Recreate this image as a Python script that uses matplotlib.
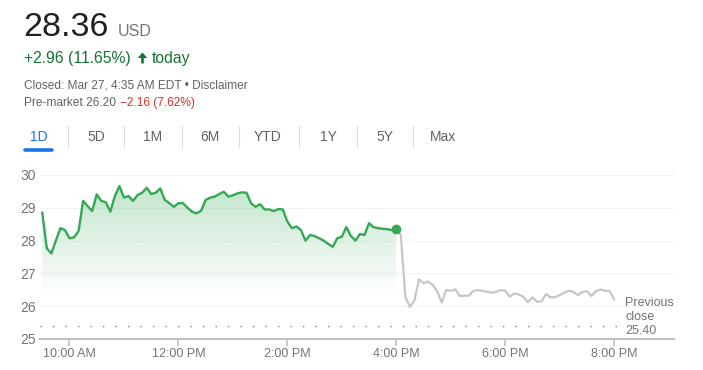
import numpy as np
import matplotlib
matplotlib.use("Agg")
import matplotlib.pyplot as plt
from matplotlib.lines import Line2D
from matplotlib.patches import FancyArrow
from matplotlib.transforms import IdentityTransform

plt.rcParams['font.family'] = ['Liberation Sans', 'DejaVu Sans']

# regular session, 5-minute steps from 9:30 AM to 4:00 PM
session_prices = [
    28.85, 27.76, 27.61, 28.00, 28.38, 28.32, 28.07, 28.10, 28.29, 29.21,
    29.05, 28.90, 29.41, 29.21, 29.17, 28.88, 29.36, 29.66, 29.31, 29.36,
    29.21, 29.39, 29.46, 29.61, 29.42, 29.46, 29.59, 29.24, 29.14, 29.03,
    29.14, 29.14, 29.00, 28.88, 28.83, 28.91, 29.24, 29.31, 29.34, 29.42,
    29.49, 29.34, 29.38, 29.44, 29.47, 29.46, 29.14, 29.03, 29.11, 28.95,
    28.95, 28.90, 28.96, 28.95, 28.58, 28.38, 28.43, 28.32, 28.00, 28.17,
    28.14, 28.07, 28.00, 27.90, 27.81, 28.07, 28.12, 28.41, 28.14, 28.00,
    28.20, 28.17, 28.53, 28.41, 28.38, 28.36, 28.35, 28.32, 28.36,
]
# after hours, 5-minute steps from 4:00 PM to 8:00 PM
after_prices = [
    28.36, 28.17, 26.29, 25.98, 26.17, 26.82, 26.70, 26.75, 26.65, 26.46,
    26.11, 26.49, 26.47, 26.51, 26.31, 26.32, 26.32, 26.47, 26.49, 26.47,
    26.44, 26.41, 26.44, 26.49, 26.47, 26.29, 26.39, 26.36, 26.29, 26.12,
    26.27, 26.14, 26.14, 26.37, 26.27, 26.27, 26.34, 26.41, 26.47, 26.44,
    26.34, 26.43, 26.46, 26.31, 26.46, 26.51, 26.47, 26.46, 26.21,
]
prev_close = 25.40

tick_minutes = [30, 150, 270, 390, 510, 630]   # minutes after 9:30 AM
tick_labels = ["10:00 AM", "12:00 PM", "2:00 PM", "4:00 PM", "6:00 PM", "8:00 PM"]
y_ticks = [25, 26, 27, 28, 29, 30]
tabs = ["1D", "5D", "1M", "6M", "YTD", "1Y", "5Y", "Max"]

GREEN = "#34a853"
GRAY_LINE = "#c6c6c6"
TEXT_GRAY = "#70757a"

t_session = np.arange(len(session_prices)) * 5
t_after = t_session[-1] + np.arange(len(after_prices)) * 5

W, H = 703, 370
fig = plt.figure(figsize=(W / 100, H / 100), dpi=100)
ax = fig.add_axes([40 / W, 1 - 339 / H, 634 / W, 164 / H])


def fx(px):
    return px / W


def fy(py):
    return 1 - py / H


# ---- header ----
fig.text(fx(23), fy(36), "28.36", fontsize=24.5, color="#202124", va="baseline")
fig.text(fx(118), fy(36), "USD", fontsize=11.5, color=TEXT_GRAY, va="baseline")
fig.text(fx(24), fy(63), "+2.96 (11.65%)", fontsize=11.3, color="#137333", va="baseline")
fig.add_artist(FancyArrow(142.5, H - 63.5, 0, 11, width=2.6, head_width=9.5,
                          head_length=5.5, length_includes_head=True,
                          color="#137333", lw=0, transform=IdentityTransform()))
fig.text(fx(152), fy(63), "today", fontsize=11.3, color="#137333", va="baseline")
fig.text(fx(24), fy(89), "Closed: Mar 27, 4:35 AM EDT \u2022 Disclaimer",
         fontsize=8.6, color="#5f6368", va="baseline")
fig.text(fx(24), fy(106), "Pre-market 26.20", fontsize=8.6, color="#5f6368", va="baseline")
fig.text(fx(119.5), fy(106), "\u22122.16 (7.62%)", fontsize=8.6, color="#d93025", va="baseline")

# ---- tabs ----
tab_centers = [39, 96, 153, 210, 268, 328, 385, 443]
for name, cx in zip(tabs, tab_centers):
    fig.text(fx(cx), fy(137), name, fontsize=10, ha="center", va="center",
             color="#1a73e8" if name == "1D" else "#5f6368")
for sx in [68, 124, 182, 239, 299, 357, 413]:
    fig.add_artist(Line2D([fx(sx), fx(sx)], [fy(126), fy(147)],
                          transform=fig.transFigure, color="#dadce0", lw=0.8))
fig.add_artist(Line2D([fx(25), fx(52)], [fy(150), fy(150)], transform=fig.transFigure,
                      color="#1a73e8", lw=2.6, solid_capstyle="round"))

# ---- chart ----
for y in y_ticks[1:]:
    ax.axhline(y, color="#f1f3f4", lw=0.9, zorder=0)

fill_floor = 26.35
poly = ax.fill_between(t_session, session_prices, fill_floor, color="none", lw=0)
grad = np.zeros((256, 1, 4))
grad[:, 0, 0:3] = matplotlib.colors.to_rgb("#34a853")
grad[:, 0, 3] = np.linspace(0.0, 0.30, 256)
im = ax.imshow(grad, extent=[t_session[0], t_session[-1], fill_floor, 29.7],
               origin="lower", aspect="auto", zorder=1, interpolation="bilinear")
im.set_clip_path(poly.get_paths()[0], transform=ax.transData)

ax.plot(t_after, after_prices, color=GRAY_LINE, lw=1.6, zorder=2,
        solid_joinstyle="round")
ax.plot(t_session, session_prices, color=GREEN, lw=1.7, zorder=3,
        solid_joinstyle="round")
ax.plot(t_session[-1], session_prices[-1], "o", color=GREEN, ms=6, zorder=4)

ax.plot([-2.5, t_after[-1] + 4], [prev_close, prev_close], color="#80868b",
        lw=1.0, ls=(0, (1, 8)), zorder=2)
ax.annotate("Previous\nclose\n25.40", xy=(t_after[-1], prev_close),
            xytext=(11, 9), textcoords="offset pixels", fontsize=9,
            color=TEXT_GRAY, va="center", ha="left", linespacing=1.25)

ax.set_xlim(-2.5, 696)
ax.set_ylim(25, 30)
ax.set_xticks(tick_minutes)
ax.set_xticklabels(tick_labels)
ax.set_yticks(y_ticks)
ax.tick_params(axis="x", length=5, width=1.2, color="#bdc1c6",
               labelcolor=TEXT_GRAY, labelsize=9, pad=1.5)
ax.tick_params(axis="y", length=0, labelcolor=TEXT_GRAY, labelsize=10, pad=3)
for s in ["top", "right", "left"]:
    ax.spines[s].set_visible(False)
ax.spines["bottom"].set_color("#bdc1c6")
ax.spines["bottom"].set_linewidth(1.5)
ax.set_facecolor("white")

fig.savefig("out.png", dpi=100)
